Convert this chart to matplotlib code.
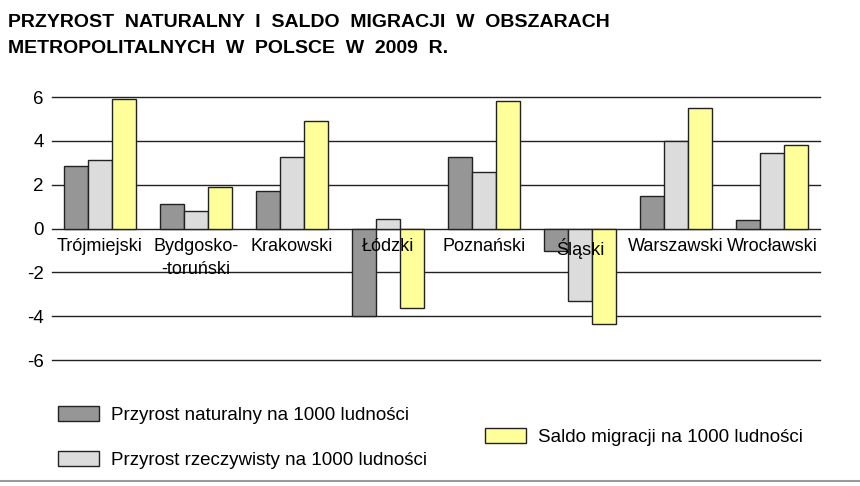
import matplotlib
matplotlib.use('Agg')
import matplotlib.pyplot as plt
import numpy as np
from matplotlib.lines import Line2D
from matplotlib.patches import Patch

matplotlib.rcParams['font.family'] = ['Liberation Sans', 'DejaVu Sans']

regiony = ['Trójmiejski', 'Bydgosko-\n-toruński', 'Krakowski', 'Łódzki',
           'Poznański', 'Śląski', 'Warszawski', 'Wrocławski']
naturalny = [2.84, 1.13, 1.71, -4.0, 3.24, -1.02, 1.5, 0.4]
rzeczywisty = [3.12, 0.78, 3.24, 0.43, 2.6, -3.33, 3.99, 3.45]
migracja = [5.9, 1.9, 4.89, -3.62, 5.81, -4.37, 5.5, 3.79]
yticks = [-6, -4, -2, 0, 2, 4, 6]

fig = plt.figure(figsize=(8.6, 4.86), dpi=100)
ax = fig.add_axes([52/860, 1-360/486, 768/860, 263/486])

x = np.arange(len(regiony))
w = 0.25
kw = dict(edgecolor='#222222', linewidth=1, zorder=3)
ax.bar(x - w, naturalny, w, color='#969696', **kw)
ax.bar(x, rzeczywisty, w, color='#dcdcdc', **kw)
ax.bar(x + w, migracja, w, color='#ffff99', **kw)

# linie siatki
for yv in yticks:
    ax.axhline(yv, color='#222222', lw=1, zorder=1, clip_on=False)

ax.set_xlim(-0.5, 7.5)
ax.set_ylim(-6, 6)
ax.set_yticks(yticks)
ax.set_yticklabels([str(v) for v in yticks], fontsize=13.5)
ax.tick_params(axis='y', length=0, pad=6)
ax.set_xticks([])
for s in ax.spines.values():
    s.set_visible(False)

# podpisy obszarow pod linia zera
for i, lab in enumerate(regiony):
    ax.text(i, -0.42, lab, ha='center', va='top', fontsize=13,
            multialignment='center', linespacing=1.45, zorder=5)

fig.text(8/860, 1-14/486,
         'PRZYROST  NATURALNY  I  SALDO  MIGRACJI  W  OBSZARACH\n'
         'METROPOLITALNYCH  W  POLSCE  W  2009  R.',
         ha='left', va='top', fontsize=14, fontweight='bold', linespacing=1.7)

h1 = Patch(facecolor='#969696', edgecolor='#222222')
h2 = Patch(facecolor='#dcdcdc', edgecolor='#222222')
h3 = Patch(facecolor='#ffff99', edgecolor='#222222')
fig.legend([h1, h2], ['Przyrost naturalny na 1000 ludności',
                      'Przyrost rzeczywisty na 1000 ludności'],
           loc='upper left', bbox_to_anchor=(58/860, 1-406/486),
           frameon=False, fontsize=13.5, borderpad=0, borderaxespad=0,
           handlelength=2.2, handleheight=0.85, handletextpad=0.65,
           labelspacing=1.45)
fig.legend([h3], ['Saldo migracji na 1000 ludności'],
           loc='center left', bbox_to_anchor=(485/860, 1-437/486),
           frameon=False, fontsize=13.5, borderpad=0, borderaxespad=0,
           handlelength=2.2, handleheight=0.85, handletextpad=0.65)

fig.add_artist(Line2D([0, 1], [1-481/486, 1-481/486], color='#999999', lw=1.5))

fig.savefig('out.png', dpi=100)
